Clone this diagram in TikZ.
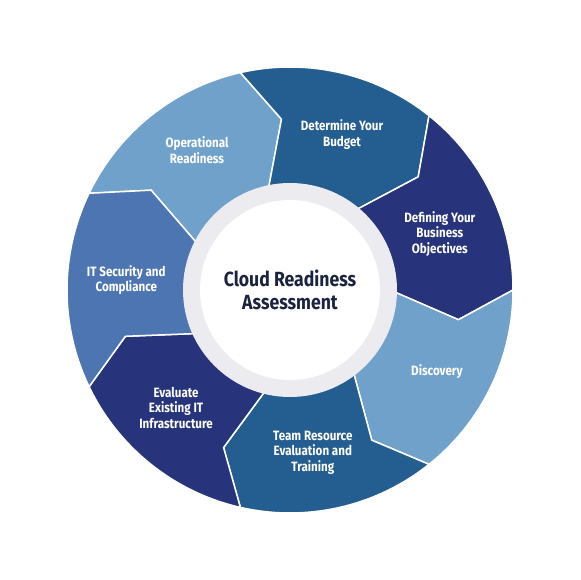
\documentclass[tikz,border=0pt]{standalone}
\usepackage{fontspec}
\setmainfont{Fira Sans}[FakeStretch=0.86]
\definecolor{seglight}{HTML}{70A1CB}
\definecolor{segmid}{HTML}{4C75B1}
\definecolor{segblue}{HTML}{245D90}
\definecolor{segnavy}{HTML}{27337A}
\definecolor{hubring}{HTML}{ECECF0}
\definecolor{hubtext}{HTML}{1B2340}
\tikzset{
  part/.style={draw=white, line width=1.5pt, line join=round},
  partlabel/.style={text=white, font=\bfseries\fontsize{13.5}{15.5}\selectfont, align=center},
}
\begin{document}
\begin{tikzpicture}
  \useasboundingbox (-290pt,-290pt) rectangle (290pt,290pt);

  % ring parts, outer arc, arrow tip, inner arc, notch
  \filldraw[part, fill=seglight] (154.29:223pt) arc[start angle=154.29, end angle=102.86, radius=223pt] -- (92.86:171pt) -- (102.86:100pt) arc[start angle=102.86, end angle=154.29, radius=100pt] -- (144.29:171pt) -- cycle; % operational
  \filldraw[part, fill=segblue] (102.86:223pt) arc[start angle=102.86, end angle=51.43, radius=223pt] -- (41.43:171pt) -- (51.43:100pt) arc[start angle=51.43, end angle=102.86, radius=100pt] -- (92.86:171pt) -- cycle; % budget
  \filldraw[part, fill=segnavy] (51.43:223pt) arc[start angle=51.43, end angle=0, radius=223pt] -- (-10:171pt) -- (0:100pt) arc[start angle=0, end angle=51.43, radius=100pt] -- (41.43:171pt) -- cycle; % objectives
  \filldraw[part, fill=seglight] (0:223pt) arc[start angle=0, end angle=-51.43, radius=223pt] -- (-61.43:171pt) -- (-51.43:100pt) arc[start angle=-51.43, end angle=0, radius=100pt] -- (-10:171pt) -- cycle; % discovery
  \filldraw[part, fill=segblue] (-51.43:223pt) arc[start angle=-51.43, end angle=-102.86, radius=223pt] -- (-112.86:171pt) -- (-102.86:100pt) arc[start angle=-102.86, end angle=-51.43, radius=100pt] -- (-61.43:171pt) -- cycle; % team
  \filldraw[part, fill=segnavy] (-102.86:223pt) arc[start angle=-102.86, end angle=-154.29, radius=223pt] -- (-164.29:171pt) -- (-154.29:100pt) arc[start angle=-154.29, end angle=-102.86, radius=100pt] -- (-112.86:171pt) -- cycle; % evaluate
  \filldraw[part, fill=segmid] (-154.29:223pt) arc[start angle=-154.29, end angle=-205.71, radius=223pt] -- (-215.71:171pt) -- (-205.71:100pt) arc[start angle=-205.71, end angle=-154.29, radius=100pt] -- (-164.29:171pt) -- cycle; % security

  % hub
  \fill[hubring] (0,0) circle[radius=107pt];
  \fill[white] (0,0) circle[radius=90pt];
  \node[text=hubtext, font=\bfseries\fontsize{20.5}{22.5}\selectfont, align=center] (hub) at (0,0) {Cloud Readiness\\Assessment};

  % labels
  \node[partlabel] (operational) at (123.6:168pt) {Operational\\Readiness};
  \node[partlabel] (budget) at (71.5:164pt) {Determine Your\\Budget};
  \node[partlabel] (objectives) at (20.5:160pt) {Defining Your\\Business\\Objectives};
  \node[partlabel] (discovery) at (-29:168pt) {Discovery};
  \node[partlabel] (team) at (-82:164pt) {Team Resource\\Evaluation and\\Training};
  \node[partlabel] (evaluate) at (-134:164pt) {Evaluate\\Existing IT\\Infrastructure};
  \node[partlabel] (security) at (176.5:164pt) {IT Security and\\Compliance};
\end{tikzpicture}
\end{document}
